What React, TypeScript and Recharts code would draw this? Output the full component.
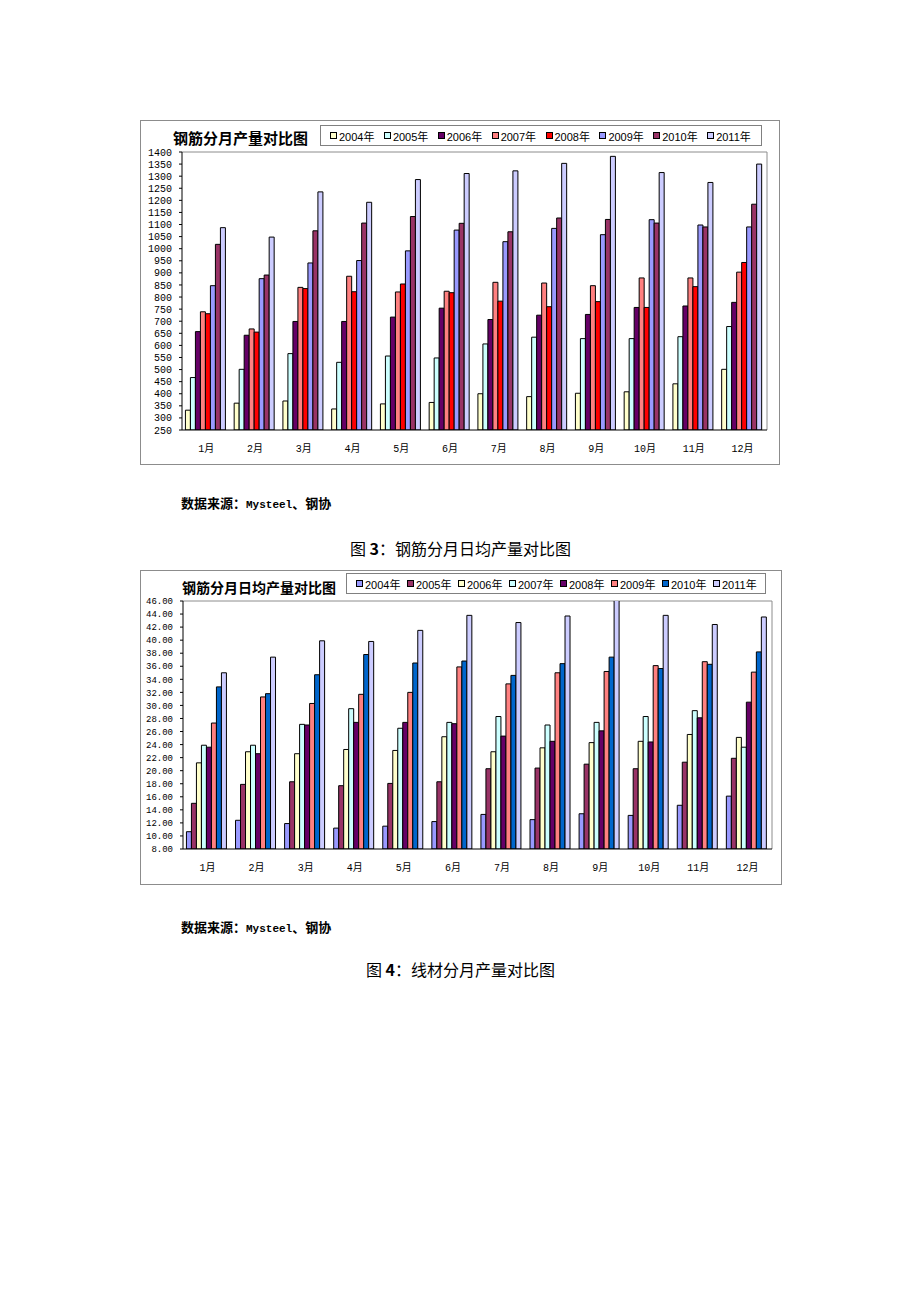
import { BarChart, Bar, XAxis, YAxis, CartesianGrid, Legend } from 'recharts'

const months = ['1月', '2月', '3月', '4月', '5月', '6月', '7月', '8月', '9月', '10月', '11月', '12月']
const years = ['2004年', '2005年', '2006年', '2007年', '2008年', '2009年', '2010年', '2011年']

// 钢筋分月产量 (万吨)
const out2004 = [332, 361, 370, 337, 358, 364, 400, 388, 402, 408, 441, 501]
const out2005 = [467, 501, 566, 530, 556, 548, 606, 634, 628, 628, 636, 678]
const out2006 = [657, 642, 699, 699, 717, 754, 707, 725, 728, 757, 763, 778]
const out2007 = [739, 668, 840, 886, 821, 824, 861, 858, 847, 879, 879, 903]
const out2008 = [731, 655, 835, 822, 854, 818, 783, 760, 781, 757, 843, 943]
const out2009 = [847, 876, 941, 951, 991, 1077, 1029, 1084, 1058, 1120, 1098, 1090]
const out2010 = [1018, 891, 1074, 1106, 1133, 1105, 1070, 1127, 1121, 1106, 1090, 1184]
const out2011 = [1087, 1048, 1235, 1192, 1286, 1311, 1322, 1353, 1382, 1315, 1274, 1350]

// 钢筋分月日均产量
const daily2004 = [10.65, 12.4, 11.9, 11.2, 11.5, 12.2, 13.3, 12.5, 13.4, 13.15, 14.7, 16.1]
const daily2005 = [15.0, 17.9, 18.3, 17.7, 18.05, 18.3, 20.3, 20.4, 21.0, 20.3, 21.3, 21.9]
const daily2006 = [21.2, 22.9, 22.6, 23.25, 23.1, 25.2, 22.9, 23.5, 24.3, 24.5, 25.55, 25.1]
const daily2007 = [23.9, 23.9, 27.1, 29.5, 26.5, 27.4, 28.3, 27.0, 27.4, 28.3, 29.2, 23.6]
const daily2008 = [23.6, 22.6, 27.0, 27.4, 27.4, 27.2, 25.3, 24.5, 26.1, 24.4, 28.1, 30.5]
const daily2009 = [27.3, 31.3, 30.3, 31.7, 32.0, 35.9, 33.3, 35.0, 35.2, 36.1, 36.7, 35.1]
const daily2010 = [32.84, 31.8, 34.7, 37.8, 36.5, 36.8, 34.6, 36.4, 37.4, 35.65, 36.3, 38.2]
const daily2011 = [35.0, 37.4, 39.9, 39.8, 41.5, 43.8, 42.7, 43.7, 46.5, 43.8, 42.4, 43.55]

const outputTicks = [250, 300, 350, 400, 450, 500, 550, 600, 650, 700, 750, 800, 850, 900, 950, 1000, 1050, 1100, 1150, 1200, 1250, 1300, 1350, 1400]
const dailyTicks = [8, 10, 12, 14, 16, 18, 20, 22, 24, 26, 28, 30, 32, 34, 36, 38, 40, 42, 44, 46]

const outputColors = ['#FFFFCC', '#CCFFFF', '#660066', '#FF8080', '#FF0000', '#9999FF', '#993366', '#CCCCFF']
const dailyColors = ['#9999FF', '#993366', '#FFFFCC', '#CCFFFF', '#660066', '#FF8080', '#0066CC', '#CCCCFF']

const monoFont = "'Liberation Mono', 'Noto Sans CJK SC', monospace"
const cjkFont = "'Noto Sans CJK SC', sans-serif"
const legendFont = "'Liberation Sans', 'Noto Sans CJK SC', sans-serif"

function buildRows(series: number[][]) {
  return months.map((month, i) => {
    const row: Record<string, string | number> = { month }
    years.forEach((y, j) => {
      row[y] = series[j][i]
    })
    return row
  })
}

function LegendBox({ payload, itemWidth }: any) {
  return (
    <div
      style={{
        border: '1px solid #808080',
        height: 21,
        boxSizing: 'border-box',
        display: 'flex',
        alignItems: 'center',
        paddingLeft: 9,
        background: '#fff',
        fontFamily: legendFont,
        fontSize: 11,
        color: '#000',
      }}
    >
      {(payload || []).map((p: any) => (
        <div key={p.value} style={{ width: itemWidth, display: 'flex', alignItems: 'center' }}>
          <span
            style={{
              display: 'inline-block',
              width: 5,
              height: 5,
              border: '1px solid #000',
              background: p.color,
              marginRight: 2,
            }}
          />
          {p.value}
        </div>
      ))}
    </div>
  )
}

type ChartProps = {
  title: string
  rows: Record<string, string | number>[]
  colors: string[]
  ticks: number[]
  fmt: (v: number) => string
  left: number
  top: number
  width: number
  height: number
  margin: { top: number; right: number; bottom: number; left: number }
  yWidth: number
  xHeight: number
  tickFont: number
  titleLeft: number
  titleSize: number
  legendLeft: number
  legendTop: number
  legendWidth: number
  legendItem: number
}

function YearBars(p: ChartProps) {
  return (
    <div
      style={{
        position: 'absolute',
        left: p.left,
        top: p.top,
        width: p.width,
        height: p.height,
        border: '1px solid #8c8c8c',
        boxSizing: 'border-box',
        background: '#fff',
      }}
    >
      <div
        style={{
          position: 'absolute',
          left: p.titleLeft,
          top: 9,
          fontFamily: cjkFont,
          fontWeight: 700,
          fontSize: p.titleSize,
          lineHeight: `${p.titleSize}px`,
          whiteSpace: 'nowrap',
          color: '#000',
        }}
      >
        {p.title}
      </div>
      <BarChart
        width={p.width - 2}
        height={p.height - 2}
        data={p.rows}
        margin={p.margin}
        barCategoryGap="7%"
        barGap={0}
      >
        <CartesianGrid
          stroke="#8c8c8c"
          horizontalCoordinatesGenerator={({ offset }: any) => [offset.top]}
          verticalCoordinatesGenerator={({ offset }: any) => [offset.left + offset.width]}
        />
        <XAxis
          dataKey="month"
          interval={0}
          tickLine={false}
          tickMargin={9}
          axisLine={{ stroke: '#000' }}
          tick={{ fill: '#000', fontSize: 10, fontFamily: monoFont }}
          height={p.xHeight}
        />
        <YAxis
          width={p.yWidth}
          domain={[p.ticks[0], p.ticks[p.ticks.length - 1]]}
          ticks={p.ticks}
          interval={0}
          allowDataOverflow
          tickSize={3}
          tickMargin={7}
          tickFormatter={p.fmt}
          axisLine={{ stroke: '#000' }}
          tickLine={{ stroke: '#000' }}
          tick={{ fill: '#000', fontSize: p.tickFont, fontFamily: monoFont }}
        />
        <Legend
          verticalAlign="middle"
          align="center"
          layout="horizontal"
          wrapperStyle={{ left: p.legendLeft, top: p.legendTop, width: p.legendWidth, height: 21 }}
          content={<LegendBox itemWidth={p.legendItem} />}
        />
        {years.map((y, i) => (
          <Bar
            key={y}
            dataKey={y}
            fill={p.colors[i]}
            stroke="#000"
            strokeWidth={1}
            isAnimationActive={false}
          />
        ))}
      </BarChart>
    </div>
  )
}

const sourceStyle = {
  position: 'absolute' as const,
  left: 181,
  fontFamily: cjkFont,
  fontWeight: 700,
  fontSize: 13,
  lineHeight: '14px',
  whiteSpace: 'nowrap' as const,
  color: '#000',
}

const captionStyle = {
  position: 'absolute' as const,
  fontFamily: cjkFont,
  fontSize: 16,
  lineHeight: '16px',
  whiteSpace: 'nowrap' as const,
  color: '#000',
}

function Source({ top }: { top: number }) {
  return (
    <div style={{ ...sourceStyle, top }}>
      数据来源：<span style={{ fontFamily: monoFont, fontSize: 11 }}>Mysteel</span>、钢协
    </div>
  )
}

export default function App() {
  const outputRows = buildRows([out2004, out2005, out2006, out2007, out2008, out2009, out2010, out2011])
  const dailyRows = buildRows([daily2004, daily2005, daily2006, daily2007, daily2008, daily2009, daily2010, daily2011])

  return (
    <div style={{ position: 'absolute', left: 0, top: 0, width: 920, height: 1302, background: '#fff' }}>
      <YearBars
        title="钢筋分月产量对比图"
        rows={outputRows}
        colors={outputColors}
        ticks={outputTicks}
        fmt={(v) => String(v)}
        left={140}
        top={120}
        width={640}
        height={345}
        margin={{ top: 31, right: 12, bottom: 0, left: 0 }}
        yWidth={41}
        xHeight={34}
        tickFont={10}
        titleLeft={32}
        titleSize={15}
        legendLeft={179}
        legendTop={4}
        legendWidth={442}
        legendItem={54}
      />
      <Source top={496} />
      <div style={{ ...captionStyle, left: 350, top: 540 }}>
        图 <b>3</b>：钢筋分月日均产量对比图
      </div>
      <YearBars
        title="钢筋分月日均产量对比图"
        rows={dailyRows}
        colors={dailyColors}
        ticks={dailyTicks}
        fmt={(v) => v.toFixed(2)}
        left={140}
        top={570}
        width={642}
        height={315}
        margin={{ top: 30, right: 9, bottom: 0, left: 0 }}
        yWidth={42}
        xHeight={35}
        tickFont={9}
        titleLeft={41}
        titleSize={14}
        legendLeft={205}
        legendTop={2}
        legendWidth={420}
        legendItem={51}
      />
      <Source top={920} />
      <div style={{ ...captionStyle, left: 366, top: 961 }}>
        图 <b>4</b>：线材分月产量对比图
      </div>
    </div>
  )
}
